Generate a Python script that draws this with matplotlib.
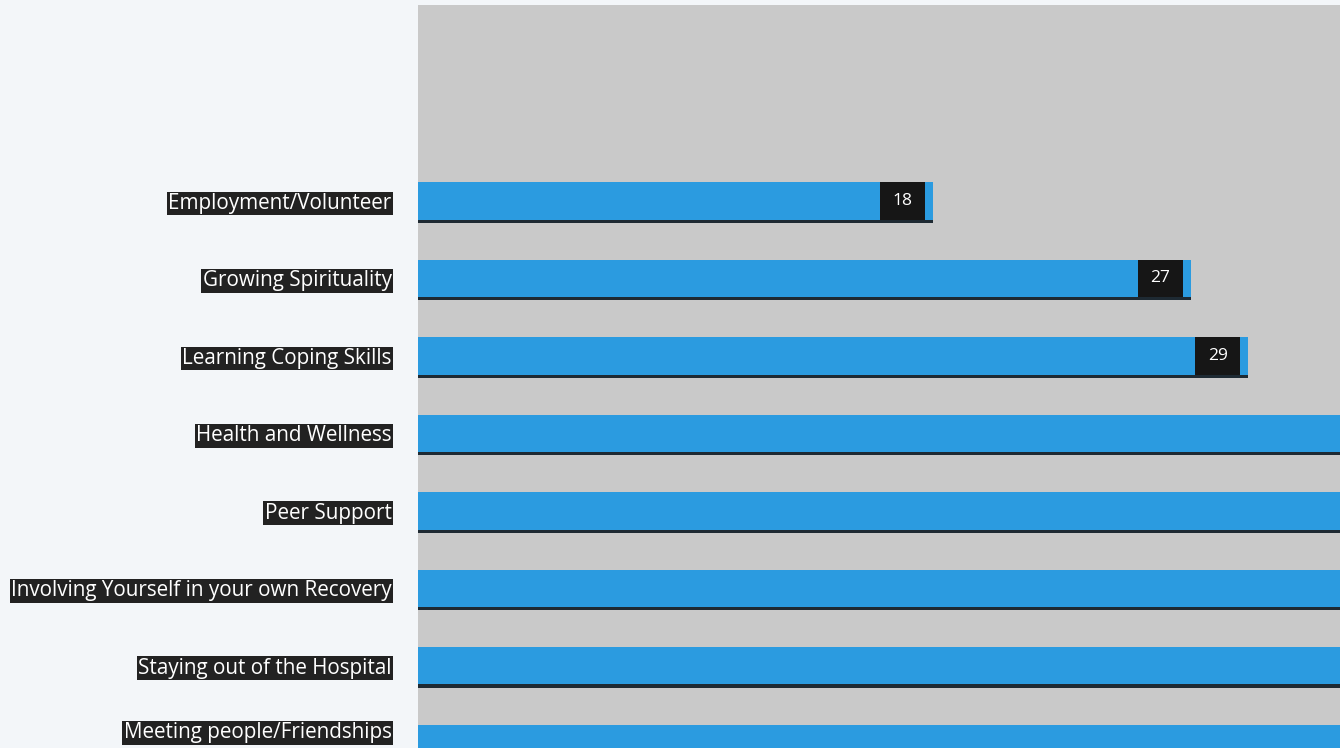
import matplotlib.pyplot as plt
from matplotlib.patches import Rectangle

categories = [
    "Employment/Volunteer",
    "Growing Spirituality",
    "Learning Coping Skills",
    "Health and Wellness",
    "Peer Support",
    "Involving Yourself in your own Recovery",
    "Staying out of the Hospital",
    "Meeting people/Friendships",
]
counts = [18, 27, 29, 34, 36, 38, 40, 42]
labeled = [True, True, True, False, False, False, False, False]

bg = "#f3f6f9"
panel = "#c9c9c9"
blue = "#2b9be0"

plt.rcParams["font.family"] = ["Open Sans", "DejaVu Sans"]

fig = plt.figure(figsize=(13.4, 7.48), dpi=100, facecolor=bg)
ax = fig.add_axes([418 / 1340, 0, 922 / 1340, 743 / 748])
ax.set_facecolor(panel)

pos = list(range(len(categories)))
h = 0.48

# dark shadow under each bar, then the bar itself
ax.barh([p + 0.04 for p in pos], counts, height=h, color="#1e2a33", zorder=2)
ax.barh(pos, counts, height=h, color=blue, zorder=3)

for p, v, show in zip(pos, counts, labeled):
    if not show:
        continue
    ax.add_patch(Rectangle((v - 1.85, p - h / 2), 1.55, h,
                           facecolor="#161616", zorder=4))
    ax.text(v - 1.075, p, str(v), color="white", fontsize=12.5,
            ha="center", va="center", zorder=5)

ax.set_xlim(0, 32.2)
ax.set_ylim(7.06, -2.53)
ax.set_yticks(pos)
ax.set_yticklabels(categories, fontsize=14.9, color="white")
for lbl in ax.get_yticklabels():
    lbl.set_bbox(dict(facecolor="#222222", edgecolor="none", pad=1.0))
# last label sits at the bottom edge, keep it inside the figure
ax.get_yticklabels()[-1].set_va("bottom")
ax.tick_params(axis="y", length=0, pad=19)
ax.set_xticks([])
for s in ax.spines.values():
    s.set_visible(False)

fig.savefig("out.png", dpi=100, facecolor=bg)
